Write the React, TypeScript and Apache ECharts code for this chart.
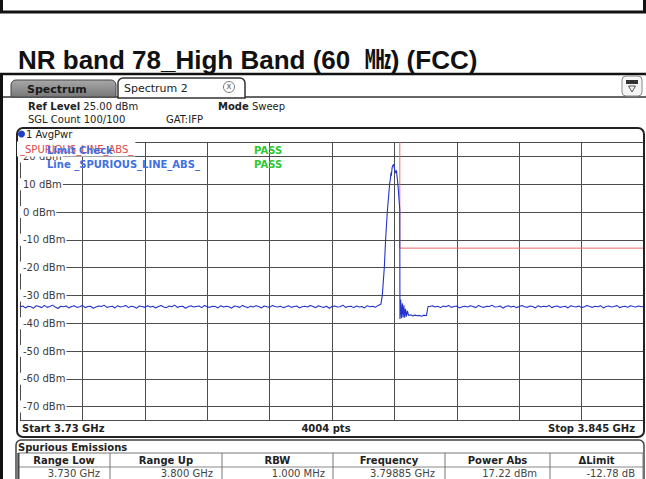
import React, { useEffect, useRef } from 'react';
import * as echarts from 'echarts';

const START_MHZ = 3730;
const STOP_MHZ = 3845;
const DIV_MHZ = 11.5;
const REF_LEVEL = 25;
const BOTTOM_LEVEL = -75;

const noiseStep = 0.5;
const noiseLeftStart = 3730;
const noiseLeft = [
  -34.2, -33.8, -34.5, -33.9, -34.1, -34.6, -33.7, -34.0, -34.4, -33.6,
  -34.3, -34.0, -33.5, -34.2, -34.7, -33.9, -34.1, -33.8, -34.5, -34.0,
  -33.7, -34.3, -34.1, -33.6, -34.4, -34.0, -33.9, -34.6, -34.2, -33.8,
  -34.0, -33.5, -34.3, -34.1, -33.9, -34.5, -33.7, -34.2, -34.0, -33.6,
  -34.4, -33.9, -34.1, -34.6, -33.8, -34.0, -34.3, -33.7, -34.2, -33.9,
  -34.5, -34.0, -33.6, -34.2, -34.4, -33.8, -34.1, -33.5, -34.3, -34.0,
  -33.9, -34.6, -34.1, -33.7, -34.2, -34.0, -33.8, -34.4, -33.6, -34.1,
  -34.3, -33.9, -34.0, -34.5, -33.7, -34.2, -33.9, -34.1, -34.6, -33.8,
  -34.0, -34.3, -33.6, -34.1, -34.4, -33.9, -34.2, -33.7, -34.0, -34.5,
  -33.8, -34.1, -34.3, -33.6, -34.0, -34.2, -33.9, -34.4, -34.1, -33.7,
  -34.3, -34.0, -33.8, -34.5, -34.1, -33.9, -34.2, -33.6, -34.0, -34.4,
  -33.7, -34.1, -34.3, -33.9, -34.6, -34.0, -33.8, -34.2, -34.1, -33.5,
  -34.3, -34.0, -33.9, -34.4, -33.8, -34.2, -34.0, -34.5, -33.7, -34.1,
  -33.9, -34.3, -33.6, -33.2,
];

const peakFreq = [
  3796.77, 3797.14, 3797.38, 3797.69, 3797.95, 3798.12, 3798.3, 3798.36, 3798.43, 3798.58,
  3798.75, 3798.85, 3799.04, 3799.2, 3799.36, 3799.54, 3799.73, 3799.87, 3799.99, 3800.02,
  3800.15, 3800.3, 3800.46, 3800.6, 3800.75, 3800.9, 3801.05, 3801.2, 3801.4, 3801.6,
  3802.0, 3802.4, 3802.8, 3803.2, 3803.6, 3804.0, 3804.4, 3804.9, 3805.2,
];
const peakLevel = [
  -30, -20, -10, 0, 6, 10, 12.5, 14.2, 13.0, 16.0,
  16.8, 17.22, 15.3, 14.0, 15.0, 12.0, 8.0, 4.0, 1.0, -38.5,
  -31.5, -38.2, -32.8, -37.9, -33.6, -38.0, -34.8, -37.6, -35.6, -37.2,
  -37.0, -37.4, -37.1, -37.3, -37.2, -37.5, -37.1, -37.3, -34.0,
];

const noiseRightStart = 3805.5;
const noiseRight = [
  -34.0, -33.7, -34.2, -33.9, -34.4, -33.8, -34.1, -33.6, -34.3, -34.0,
  -33.8, -34.5, -34.1, -33.9, -34.2, -33.7, -34.0, -34.4, -33.6, -34.1,
  -34.3, -33.9, -34.0, -33.5, -34.2, -34.1, -33.8, -34.6, -34.0, -33.7,
  -34.2, -33.9, -34.4, -34.0, -33.6, -34.1, -34.3, -33.8, -34.0, -34.5,
  -33.7, -34.2, -33.9, -34.1, -33.6, -34.4, -34.0, -33.8, -34.3, -34.1,
  -33.9, -34.5, -33.7, -34.0, -34.2, -33.8, -34.4, -34.1, -33.6, -34.0,
  -34.3, -33.9, -34.1, -33.7, -34.5, -34.0, -33.8, -34.2, -34.0, -33.6,
  -34.4, -34.1, -33.9, -34.3, -33.7, -34.0, -34.2, -33.8, -34.1, -34.0,
];

const limitFreq = [3730, 3800, 3800, 3845];
const limitLevel = [30, 30, -13, -13];

const tableHeaders = ['Range Low', 'Range Up', 'RBW', 'Frequency', 'Power Abs', '\u0394Limit'];
const tableValues = ['3.730 GHz', '3.800 GHz', '1.000 MHz', '3.79885 GHz', '17.22 dBm', '-12.78 dB'];

const UI = '"DejaVu Sans", Verdana, sans-serif';

function buildTrace(): number[][] {
  const pts: number[][] = [];
  noiseLeft.forEach((v, i) => pts.push([noiseLeftStart + i * noiseStep, v]));
  peakFreq.forEach((f, i) => pts.push([f, peakLevel[i]]));
  noiseRight.forEach((v, i) => pts.push([noiseRightStart + i * noiseStep, v]));
  return pts;
}

type TOpt = { bold?: boolean; size?: number; color?: string; align?: string; bg?: string; pad?: number[]; z?: number; family?: string };
function txt(x: number, y: number, text: string, o: TOpt = {}) {
  const style: any = {
    text,
    font: `${o.bold ? 'bold ' : ''}${o.size || 10}px ${o.family || UI}`,
    fill: o.color || '#222',
    align: o.align || 'left',
    verticalAlign: 'middle',
  };
  if (o.bg) style.backgroundColor = o.bg;
  if (o.pad) style.padding = o.pad;
  return { type: 'text', x, y, z: o.z ?? 50, style };
}

function line(x1: number, y1: number, x2: number, y2: number, color: string, w: number, z = 40) {
  return { type: 'line', z, shape: { x1, y1, x2, y2 }, style: { stroke: color, lineWidth: w } };
}

export default function App() {
  const ref = useRef<HTMLDivElement>(null);

  useEffect(() => {
    if (!ref.current) return;
    const chart = echarts.init(ref.current, null, { renderer: 'svg' });

    const colLeft = [18, 110, 222, 333, 445, 550];
    const colRight = [110, 222, 333, 445, 550, 643];
    const valRight = [100, 213, 325, 435, 537, 635];

    const graphics: any[] = [
      // remnant of box above
      line(0, 12, 646, 12, '#111', 3),
      line(1.5, 0, 1.5, 12, '#111', 3),
      line(644.5, 0, 644.5, 12, '#111', 3),
      // title
      txt(18, 60, 'NR band 78_High Band (60  \u3392) (FCC)', { bold: true, size: 26, color: '#111', family: '"Liberation Sans", Arial, "Noto Sans CJK KR", sans-serif' }),
      // outer frame
      line(0, 74, 646, 74, '#111', 2.5),
      line(1.5, 74, 1.5, 479, '#111', 3),
      // tabs
      {
        type: 'rect', z: 41,
        shape: { x: 11, y: 80, width: 105, height: 17, r: [5, 5, 0, 0] },
        style: {
          fill: new echarts.graphic.LinearGradient(0, 0, 0, 1, [
            { offset: 0, color: '#a8a8a8' },
            { offset: 1, color: '#787878' },
          ]),
          stroke: '#444', lineWidth: 1,
        },
      },
      txt(27, 89, 'Spectrum', { bold: true, size: 11, color: '#1a1a1a' }),
      {
        type: 'rect', z: 41,
        shape: { x: 118, y: 78, width: 127, height: 20, r: [5, 5, 0, 0] },
        style: { fill: '#fff', stroke: '#333', lineWidth: 1.5 },
      },
      txt(124, 88, 'Spectrum 2', { size: 11, color: '#222' }),
      { type: 'circle', z: 42, shape: { cx: 229, cy: 87, r: 5.5 }, style: { fill: '#fff', stroke: '#777', lineWidth: 1 } },
      txt(229, 87, 'X', { size: 7, color: '#444', align: 'center' }),
      line(245, 97, 646, 97, '#333', 1.5),
      line(3, 97, 118, 97, '#333', 1.5),
      // top-right icon
      {
        type: 'rect', z: 41,
        shape: { x: 622, y: 76, width: 20, height: 20, r: 4 },
        style: { fill: '#f6f6f6', stroke: '#888', lineWidth: 1 },
      },
      { type: 'rect', z: 42, shape: { x: 626, y: 80, width: 12, height: 4 }, style: { fill: '#333' } },
      {
        type: 'polygon', z: 42,
        shape: { points: [[628.5, 86], [635.5, 86], [632, 92]] },
        style: { fill: 'none', stroke: '#555', lineWidth: 1 },
      },
      // header texts
      {
        type: 'text', x: 28, y: 106, z: 50,
        style: {
          text: '{b|Ref Level} 25.00 dBm',
          font: `10px ${UI}`, fill: '#222', verticalAlign: 'middle',
          rich: { b: { font: `bold 10px ${UI}`, fill: '#222' } },
        },
      },
      {
        type: 'text', x: 218, y: 106, z: 50,
        style: {
          text: '{b|Mode} Sweep',
          font: `10px ${UI}`, fill: '#222', verticalAlign: 'middle',
          rich: { b: { font: `bold 10px ${UI}`, fill: '#222' } },
        },
      },
      txt(28, 119, 'SGL Count 100/100', { color: '#222' }),
      txt(166, 119, 'GAT:IFP', { color: '#222' }),
      // plot panel
      {
        type: 'rect', z: 30,
        shape: { x: 17, y: 128, width: 627, height: 309, r: 6 },
        style: { fill: 'none', stroke: '#222', lineWidth: 2 },
      },
      { type: 'circle', z: 50, shape: { cx: 21.5, cy: 134, r: 3.5 }, style: { fill: '#1e3fc8' } },
      txt(26, 134, '1 AvgPwr', { color: '#222' }),
      // limit check overlay
      txt(17, 149, '_SPURIOUS_LINE_ABS_', { color: '#e04848', bg: '#fff', pad: [3, 2, 2, 3], z: 55 }),
      txt(47, 150, 'Limit Check', { bold: true, color: '#4070e0', z: 56 }),
      txt(47, 164, 'Line _SPURIOUS_LINE_ABS_', { bold: true, color: '#4070e0', z: 56 }),
      txt(254, 150, 'PASS', { bold: true, color: '#30c830', z: 56 }),
      txt(254, 164, 'PASS', { bold: true, color: '#30c830', z: 56 }),
      // start / stop row
      txt(22, 428.5, 'Start 3.73 GHz', { bold: true, color: '#222' }),
      txt(326, 428.5, '4004 pts', { bold: true, color: '#222', align: 'center' }),
      txt(635, 428.5, 'Stop 3.845 GHz', { bold: true, color: '#222', align: 'right' }),
      // spurious emissions panel
      {
        type: 'rect', z: 30,
        shape: { x: 16, y: 440, width: 628, height: 50, r: 5 },
        style: { fill: '#fff', stroke: '#444', lineWidth: 1.5 },
      },
      txt(18, 447, 'Spurious Emissions', { bold: true, color: '#222' }),
      {
        type: 'rect', z: 40,
        shape: { x: 18, y: 453, width: 625, height: 30 },
        style: { fill: '#fff', stroke: '#777', lineWidth: 1 },
      },
      line(18, 467, 643, 467, '#888', 1),
      line(18.5, 453, 18.5, 479, '#444', 2),
    ];

    for (let i = 1; i < colLeft.length; i++) {
      graphics.push(line(colLeft[i], 453, colLeft[i], 479, '#777', 1, 41));
    }
    tableHeaders.forEach((h, i) => {
      graphics.push(txt((colLeft[i] + colRight[i]) / 2, 460.5, h, { bold: true, color: '#222', align: 'center' }));
    });
    tableValues.forEach((v, i) => {
      graphics.push(txt(valRight[i], 473.5, v, { color: '#444', align: 'right' }));
    });

    const option: any = {
      animation: false,
      backgroundColor: '#fff',
      grid: { left: 20, right: 2, top: 142.5, bottom: 58.5, containLabel: false },
      xAxis: {
        type: 'value',
        min: START_MHZ,
        max: STOP_MHZ,
        interval: DIV_MHZ,
        axisLine: { show: false },
        axisTick: { show: false },
        axisLabel: { show: false },
        splitLine: { show: true, lineStyle: { color: '#4d4d4d', width: 1 } },
      },
      yAxis: {
        type: 'value',
        min: BOTTOM_LEVEL,
        max: REF_LEVEL,
        splitNumber: 10,
        axisLine: { show: false },
        axisTick: { show: false },
        axisLabel: {
          inside: true,
          margin: 0,
          showMinLabel: false,
          showMaxLabel: false,
          color: '#3a3a3a',
          fontSize: 10,
          fontFamily: UI,
          backgroundColor: '#fff',
          padding: [1, 1, 1, 3],
          formatter: (v: number) => `${v} dBm`,
        },
        splitLine: { show: true, lineStyle: { color: '#4d4d4d', width: 1 } },
      },
      series: [
        {
          type: 'line',
          data: limitFreq.map((f, i) => [f, limitLevel[i]]),
          showSymbol: false,
          lineStyle: { color: '#ee6666', width: 1 },
          z: 3,
          silent: true,
        },
        {
          type: 'line',
          data: buildTrace(),
          showSymbol: false,
          lineStyle: { color: '#2234cc', width: 1.1 },
          z: 4,
          silent: true,
        },
      ],
      graphic: graphics,
    };

    chart.setOption(option);
    return () => chart.dispose();
  }, []);

  return (
    <div
      ref={ref}
      style={{ position: 'absolute', left: 0, top: 0, width: 646, height: 479, background: '#fff' }}
    />
  );
}
